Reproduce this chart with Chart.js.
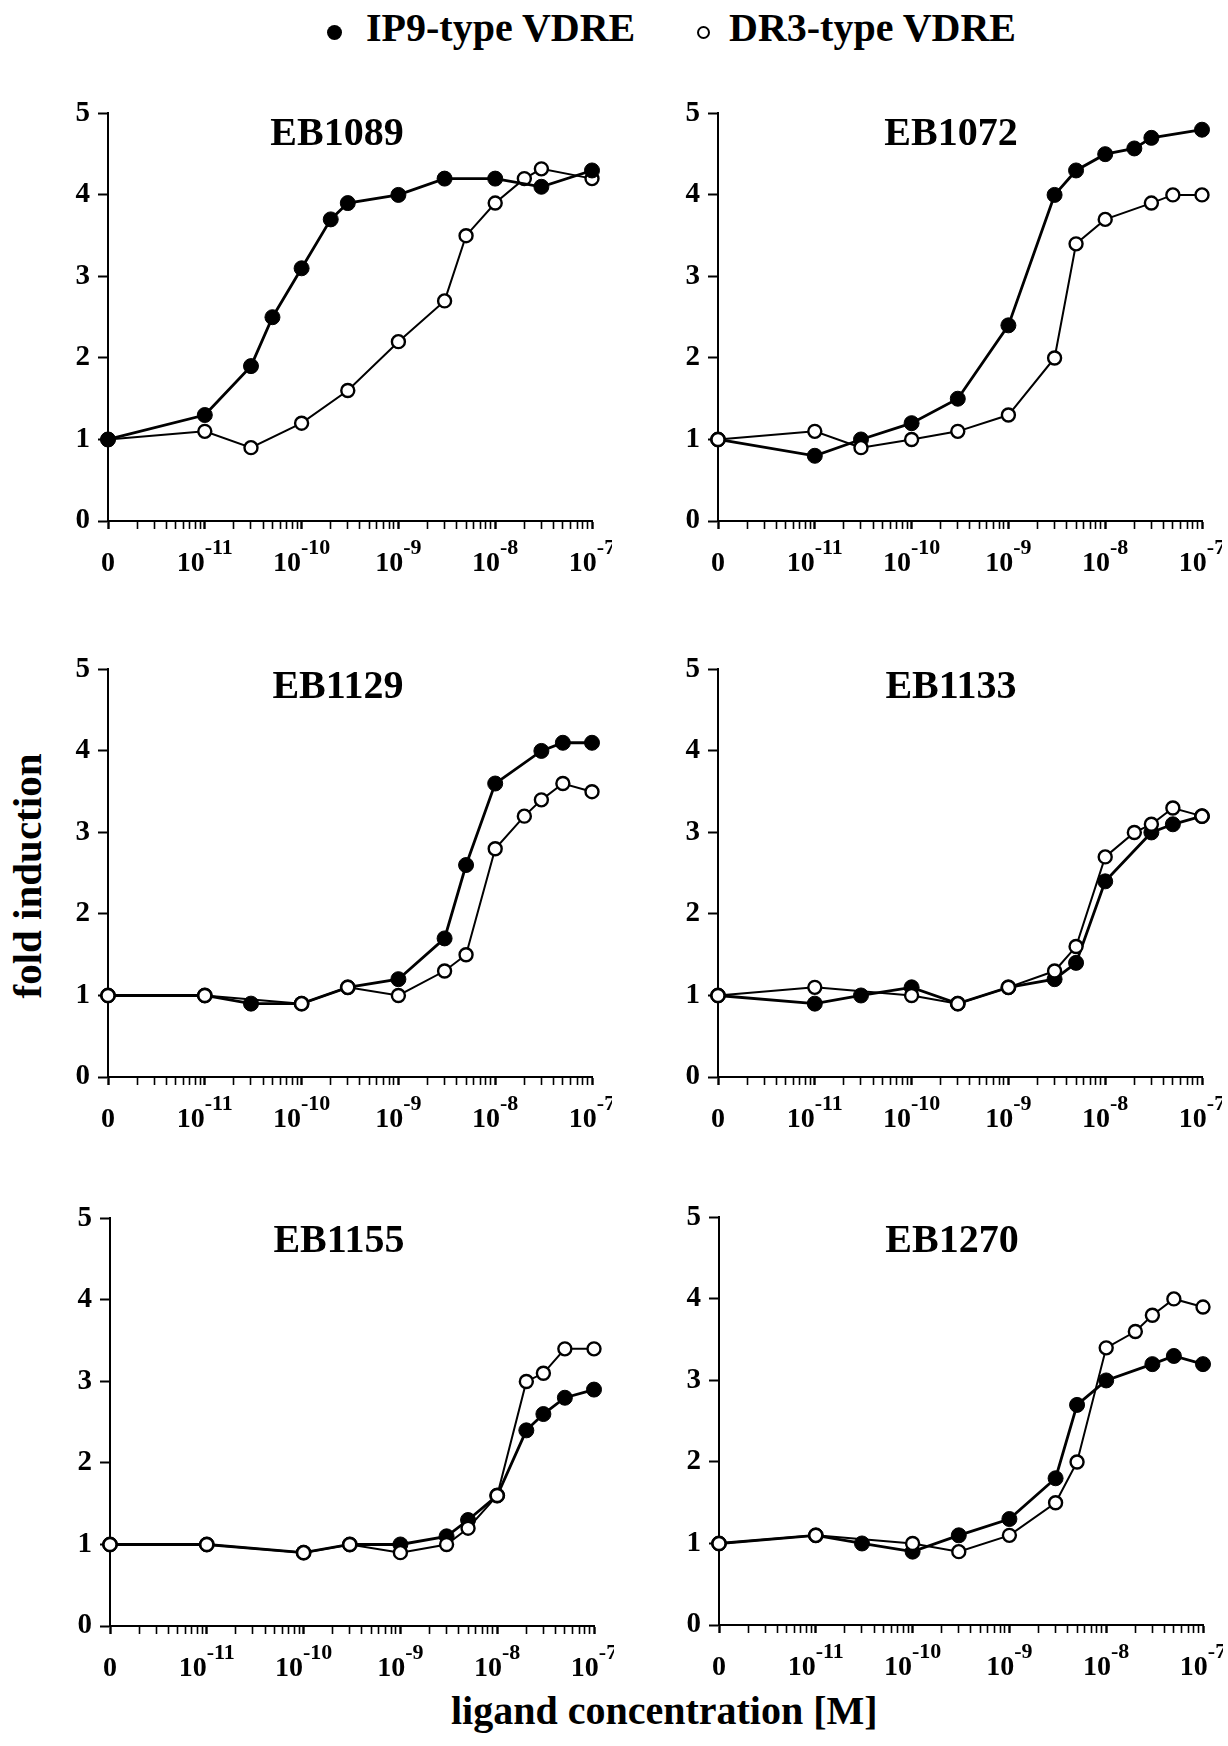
<!DOCTYPE html>
<html>
<head>
<meta charset="utf-8">
<script src="https://cdn.jsdelivr.net/npm/chart.js@4.4.1/dist/chart.umd.min.js"></script>
<style>
    html, body { margin: 0; padding: 0; background: #fff; overflow: hidden; }
    body {
        width: 1228px; height: 1746px; position: relative;
        font-family: "Liberation Serif", "Times New Roman", serif;
        font-weight: bold; color: #000;
    }
    canvas { position: absolute; }
    .txt { position: absolute; line-height: 1; white-space: nowrap; }
    .dot { position: absolute; border-radius: 50%; box-sizing: border-box; }
</style>
</head>
<body>
<div class="dot" style="left:327px; top:25px; width:15px; height:15px; background:#000;"></div>
<div class="txt" style="left:366px; top:8px; font-size:40px;">IP9-type VDRE</div>
<div class="dot" style="left:697px; top:26px; width:13px; height:13px; border:2px solid #000; background:#fff;"></div>
<div class="txt" style="left:729px; top:8px; font-size:40px;">DR3-type VDRE</div>

<div class="txt" style="left:27px; top:876px; font-size:41px; transform: translate(-50%, -50%) rotate(-90deg);">fold induction</div>
<div class="txt" style="left:451px; top:1691px; font-size:40px;">ligand concentration [M]</div>

<div id="panels"></div>

<script>
// concentrations tested (M); the "0" control is drawn at the 1e-12 slot of the axis
const CONC = [0, 1e-11, 3e-11, 5e-11, 1e-10, 2e-10, 3e-10, 1e-9, 3e-9, 5e-9, 1e-8, 2e-8, 3e-8, 5e-8, 1e-7];
const ZERO_AT = 1e-12;

// axis labels
const DECADES = [1e-12, 1e-11, 1e-10, 1e-9, 1e-8, 1e-7];
const DECADE_BASE = ['0', '10', '10', '10', '10', '10'];
const DECADE_EXP = ['', '-11', '-10', '-9', '-8', '-7'];
const Y_TICKS = [0, 1, 2, 3, 4, 5];

const _ = null;

// fold induction, one value per CONC entry (null = not measured)
const eb1089_ip9 = [1.0, 1.3, 1.9, 2.5, 3.1, 3.7, 3.9, 4.0, 4.2, _, 4.2, _, 4.1, _, 4.3];
const eb1089_dr3 = [1.0, 1.1, 0.9, _, 1.2, _, 1.6, 2.2, 2.7, 3.5, 3.9, 4.2, 4.32, _, 4.2];

const eb1072_ip9 = [1.0, 0.8, 1.0, _, 1.2, _, 1.5, 2.4, 4.0, 4.3, 4.5, 4.57, 4.7, _, 4.8];
const eb1072_dr3 = [1.0, 1.1, 0.9, _, 1.0, _, 1.1, 1.3, 2.0, 3.4, 3.7, _, 3.9, 4.0, 4.0];

const eb1129_ip9 = [1.0, 1.0, 0.9, _, 0.9, _, 1.1, 1.2, 1.7, 2.6, 3.6, _, 4.0, 4.1, 4.1];
const eb1129_dr3 = [1.0, 1.0, _, _, 0.9, _, 1.1, 1.0, 1.3, 1.5, 2.8, 3.2, 3.4, 3.6, 3.5];

const eb1133_ip9 = [1.0, 0.9, 1.0, _, 1.1, _, 0.9, 1.1, 1.2, 1.4, 2.4, _, 3.0, 3.1, 3.2];
const eb1133_dr3 = [1.0, 1.1, _, _, 1.0, _, 0.9, 1.1, 1.3, 1.6, 2.7, 3.0, 3.1, 3.3, 3.2];

const eb1155_ip9 = [1.0, 1.0, _, _, 0.9, _, 1.0, 1.0, 1.1, 1.3, 1.6, 2.4, 2.6, 2.8, 2.9];
const eb1155_dr3 = [1.0, 1.0, _, _, 0.9, _, 1.0, 0.9, 1.0, 1.2, 1.6, 3.0, 3.1, 3.4, 3.4];

const eb1270_ip9 = [1.0, 1.1, 1.0, _, 0.9, _, 1.1, 1.3, 1.8, 2.7, 3.0, _, 3.2, 3.3, 3.2];
const eb1270_dr3 = [1.0, 1.1, _, _, 1.0, _, 0.9, 1.1, 1.5, 2.0, 3.4, 3.6, 3.8, 4.0, 3.9];

const panels = [
    { title: 'EB1089', ip9: eb1089_ip9, dr3: eb1089_dr3, left: 108, top: 113, titleX: 337, titleBase: 145, filledOnTop: true },
    { title: 'EB1072', ip9: eb1072_ip9, dr3: eb1072_dr3, left: 718, top: 113, titleX: 951, titleBase: 145 },
    { title: 'EB1129', ip9: eb1129_ip9, dr3: eb1129_dr3, left: 108, top: 669, titleX: 338, titleBase: 698 },
    { title: 'EB1133', ip9: eb1133_ip9, dr3: eb1133_dr3, left: 718, top: 669, titleX: 951, titleBase: 698 },
    { title: 'EB1155', ip9: eb1155_ip9, dr3: eb1155_dr3, left: 110, top: 1218, titleX: 339, titleBase: 1252 },
    { title: 'EB1270', ip9: eb1270_ip9, dr3: eb1270_dr3, left: 719, top: 1217, titleX: 952, titleBase: 1252 }
];

// plot box inside every canvas
const PLOT_W = 484, PLOT_H = 408;
const PAD_L = 80, PAD_T = 25, PAD_R = 20, AXIS_H = 70;
const FONT = '"Liberation Serif", "Times New Roman", serif';

// log tick marks: 1..9 per decade
const X_TICKS = [];
for (let d = -12; d <= -8; d++) {
    for (let k = 1; k <= 9; k++) X_TICKS.push(parseFloat(k + 'e' + d));
}
X_TICKS.push(1e-7);

function isDecade(v) {
    const l = Math.log10(v);
    return Math.abs(l - Math.round(l)) < 1e-9;
}

function toPoints(values) {
    const pts = [];
    values.forEach((v, i) => {
        if (v === null) return;
        pts.push({ x: CONC[i] === 0 ? ZERO_AT : CONC[i], y: v });
    });
    return pts;
}

// "10" with raised exponent under each decade tick
const decadeLabels = {
    id: 'decadeLabels',
    afterDraw(chart) {
        const sx = chart.scales.x;
        const ctx = chart.ctx;
        const yBase = sx.top + 50;
        const ySup = sx.top + 33;
        ctx.save();
        ctx.fillStyle = '#000';
        ctx.textAlign = 'left';
        ctx.textBaseline = 'alphabetic';
        DECADES.forEach((v, i) => {
            const px = sx.getPixelForValue(v);
            ctx.font = 'bold 28px ' + FONT;
            const wb = ctx.measureText(DECADE_BASE[i]).width;
            ctx.font = 'bold 22px ' + FONT;
            const we = DECADE_EXP[i] ? ctx.measureText(DECADE_EXP[i]).width : 0;
            const x0 = px - (wb + we) / 2;
            ctx.font = 'bold 28px ' + FONT;
            ctx.fillText(DECADE_BASE[i], x0, yBase);
            if (DECADE_EXP[i]) {
                ctx.font = 'bold 22px ' + FONT;
                ctx.fillText(DECADE_EXP[i], x0 + wb, ySup);
            }
        });
        ctx.restore();
    }
};

function makeDatasets(p) {
    const filled = {
        label: 'IP9-type VDRE',
        data: toPoints(p.ip9),
        borderColor: '#000',
        backgroundColor: '#000',
        borderWidth: 2.8,
        pointRadius: 7.5,
        pointBorderWidth: 1,
        pointBackgroundColor: '#000',
        pointBorderColor: '#000',
        tension: 0,
        clip: false
    };
    const open = {
        label: 'DR3-type VDRE',
        data: toPoints(p.dr3),
        borderColor: '#000',
        backgroundColor: '#fff',
        borderWidth: 2,
        pointRadius: 6.5,
        pointBorderWidth: 2.4,
        pointBackgroundColor: '#fff',
        pointBorderColor: '#000',
        tension: 0,
        clip: false
    };
    // first dataset is painted last (on top)
    return p.filledOnTop ? [filled, open] : [open, filled];
}

function renderPanel(p) {
    const canvas = document.createElement('canvas');
    canvas.width = PAD_L + PLOT_W + PAD_R;
    canvas.height = PAD_T + PLOT_H + AXIS_H;
    canvas.style.left = (p.left - PAD_L) + 'px';
    canvas.style.top = (p.top - PAD_T) + 'px';
    document.getElementById('panels').appendChild(canvas);

    const title = document.createElement('div');
    title.className = 'txt';
    title.textContent = p.title;
    title.style.fontSize = '40px';
    title.style.top = (p.titleBase - 33.5) + 'px';
    title.style.left = p.titleX + 'px';
    title.style.transform = 'translateX(-50%)';
    document.body.appendChild(title);

    new Chart(canvas, {
        type: 'line',
        data: { datasets: makeDatasets(p) },
        options: {
            responsive: false,
            animation: false,
            events: [],
            layout: { padding: { left: 0, top: PAD_T, right: PAD_R, bottom: 0 } },
            plugins: { legend: { display: false }, tooltip: { enabled: false } },
            scales: {
                x: {
                    type: 'logarithmic',
                    min: ZERO_AT,
                    max: 1e-7,
                    afterBuildTicks: s => { s.ticks = X_TICKS.map(v => ({ value: v })); },
                    afterFit: s => { s.height = AXIS_H; },
                    ticks: { display: false },
                    grid: {
                        drawOnChartArea: false,
                        drawTicks: true,
                        tickLength: 8,
                        tickColor: '#000',
                        tickWidth: c => (c.tick && isDecade(c.tick.value) ? 2.4 : 1.6)
                    },
                    border: { display: true, color: '#000', width: 2 }
                },
                y: {
                    type: 'linear',
                    min: 0,
                    max: 5,
                    afterBuildTicks: s => { s.ticks = Y_TICKS.map(v => ({ value: v })); },
                    afterFit: s => { s.width = PAD_L; },
                    ticks: {
                        padding: 8,
                        color: '#000',
                        font: { family: FONT, size: 29, weight: 'bold' }
                    },
                    grid: {
                        drawOnChartArea: false,
                        drawTicks: true,
                        tickLength: 10,
                        tickColor: '#000',
                        tickWidth: 2
                    },
                    border: { display: true, color: '#000', width: 2 }
                }
            }
        },
        plugins: [decadeLabels]
    });
}

panels.forEach(renderPanel);
</script>
</body>
</html>
